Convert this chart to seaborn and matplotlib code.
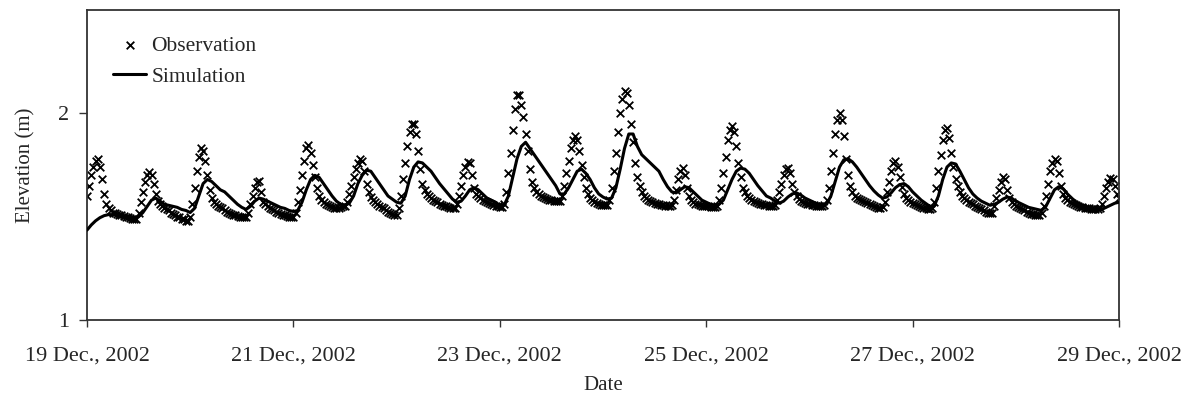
import matplotlib
matplotlib.use("Agg")
import matplotlib.pyplot as plt
import pandas as pd
import seaborn as sns

# Observed elevation (m), every 30 minutes from 19 Dec 2002 00:00
obs_elev = [
    1.60, 1.65, 1.70, 1.74, 1.77, 1.78, 1.74, 1.68, 1.61, 1.56, 1.54, 1.53, 1.52, 1.52, 1.515, 1.51, 1.51, 1.505, 1.50, 1.50, 1.495, 1.49, 1.49, 1.49,
    1.52, 1.57, 1.62, 1.67, 1.70, 1.715, 1.70, 1.66, 1.61, 1.575, 1.56, 1.55, 1.54, 1.535, 1.53, 1.52, 1.515, 1.51, 1.50, 1.50, 1.49, 1.49, 1.48, 1.48,
    1.50, 1.56, 1.64, 1.72, 1.79, 1.83, 1.82, 1.77, 1.70, 1.63, 1.59, 1.57, 1.56, 1.55, 1.545, 1.54, 1.53, 1.525, 1.52, 1.515, 1.51, 1.51, 1.505, 1.50,
    1.50, 1.50, 1.50, 1.52, 1.56, 1.60, 1.64, 1.67, 1.675, 1.62, 1.57, 1.56, 1.55, 1.54, 1.535, 1.53, 1.525, 1.52, 1.515, 1.51, 1.51, 1.505, 1.50, 1.50,
    1.50, 1.52, 1.57, 1.63, 1.70, 1.77, 1.83, 1.845, 1.81, 1.75, 1.69, 1.64, 1.60, 1.58, 1.57, 1.56, 1.555, 1.55, 1.545, 1.54, 1.54, 1.54, 1.545, 1.55,
    1.55, 1.57, 1.61, 1.65, 1.69, 1.73, 1.76, 1.78, 1.77, 1.72, 1.66, 1.62, 1.595, 1.58, 1.57, 1.56, 1.55, 1.545, 1.54, 1.53, 1.525, 1.52, 1.515, 1.51,
    1.51, 1.54, 1.60, 1.68, 1.76, 1.84, 1.91, 1.95, 1.95, 1.90, 1.82, 1.73, 1.66, 1.63, 1.61, 1.60, 1.59, 1.58, 1.575, 1.57, 1.56, 1.555, 1.55, 1.55,
    1.545, 1.54, 1.54, 1.54, 1.56, 1.60, 1.65, 1.70, 1.74, 1.765, 1.76, 1.70, 1.64, 1.61, 1.60, 1.59, 1.58, 1.575, 1.57, 1.565, 1.56, 1.555, 1.55, 1.55,
    1.545, 1.545, 1.56, 1.62, 1.71, 1.81, 1.92, 2.02, 2.09, 2.09, 2.04, 1.98, 1.90, 1.82, 1.73, 1.67, 1.64, 1.62, 1.61, 1.60, 1.595, 1.59, 1.585, 1.58,
    1.58, 1.575, 1.575, 1.575, 1.575, 1.60, 1.65, 1.71, 1.77, 1.83, 1.87, 1.89, 1.87, 1.82, 1.75, 1.69, 1.64, 1.61, 1.59, 1.58, 1.57, 1.565, 1.56, 1.555,
    1.555, 1.555, 1.555, 1.58, 1.64, 1.72, 1.81, 1.91, 2.00, 2.07, 2.11, 2.10, 2.04, 1.95, 1.86, 1.76, 1.69, 1.65, 1.62, 1.60, 1.59, 1.58, 1.575, 1.57,
    1.565, 1.56, 1.56, 1.555, 1.555, 1.55, 1.55, 1.55, 1.555, 1.58, 1.63, 1.68, 1.72, 1.735, 1.70, 1.64, 1.60, 1.58, 1.57, 1.56, 1.56, 1.555, 1.55, 1.55,
    1.55, 1.55, 1.545, 1.545, 1.545, 1.55, 1.58, 1.64, 1.71, 1.79, 1.87, 1.92, 1.94, 1.91, 1.84, 1.76, 1.69, 1.64, 1.62, 1.60, 1.59, 1.58, 1.575, 1.57,
    1.565, 1.56, 1.56, 1.555, 1.555, 1.55, 1.55, 1.55, 1.555, 1.58, 1.62, 1.66, 1.70, 1.73, 1.735, 1.71, 1.66, 1.62, 1.60, 1.585, 1.575, 1.57, 1.565, 1.56,
    1.56, 1.555, 1.555, 1.55, 1.55, 1.55, 1.55, 1.555, 1.58, 1.64, 1.72, 1.81, 1.90, 1.97, 2.00, 1.97, 1.89, 1.78, 1.70, 1.65, 1.62, 1.60, 1.59, 1.585,
    1.58, 1.575, 1.57, 1.565, 1.56, 1.555, 1.55, 1.545, 1.54, 1.54, 1.545, 1.57, 1.62, 1.67, 1.72, 1.76, 1.77, 1.74, 1.69, 1.645, 1.61, 1.59, 1.58, 1.57,
    1.565, 1.56, 1.555, 1.55, 1.545, 1.54, 1.54, 1.535, 1.535, 1.54, 1.57, 1.64, 1.72, 1.80, 1.87, 1.92, 1.93, 1.88, 1.81, 1.74, 1.68, 1.65, 1.62, 1.60,
    1.59, 1.58, 1.57, 1.565, 1.56, 1.55, 1.545, 1.54, 1.535, 1.53, 1.525, 1.52, 1.52, 1.52, 1.55, 1.59, 1.63, 1.67, 1.69, 1.68, 1.63, 1.59, 1.57, 1.56,
    1.55, 1.545, 1.54, 1.535, 1.53, 1.525, 1.52, 1.515, 1.515, 1.51, 1.51, 1.51, 1.52, 1.55, 1.60, 1.66, 1.72, 1.76, 1.78, 1.77, 1.71, 1.65, 1.61, 1.59,
    1.58, 1.57, 1.565, 1.56, 1.555, 1.55, 1.545, 1.545, 1.54, 1.54, 1.54, 1.535, 1.535, 1.535, 1.535, 1.54, 1.56, 1.60, 1.64, 1.67, 1.685, 1.68, 1.65, 1.61,
    1.59,
]

# Simulated elevation (m), hourly from 19 Dec 2002 00:00
sim_elev = [
    1.435, 1.46, 1.48, 1.495, 1.505, 1.51, 1.51, 1.51, 1.505, 1.50, 1.50, 1.495,
    1.50, 1.52, 1.55, 1.58, 1.59, 1.575, 1.56, 1.555, 1.55, 1.545, 1.535, 1.53,
    1.52, 1.54, 1.60, 1.66, 1.68, 1.67, 1.65, 1.63, 1.62, 1.60, 1.58, 1.56,
    1.545, 1.535, 1.55, 1.575, 1.59, 1.585, 1.575, 1.565, 1.555, 1.545, 1.54, 1.53,
    1.525, 1.53, 1.57, 1.63, 1.68, 1.70, 1.69, 1.66, 1.63, 1.60, 1.575, 1.56,
    1.555, 1.565, 1.60, 1.66, 1.70, 1.725, 1.72, 1.69, 1.66, 1.63, 1.60, 1.585,
    1.57, 1.565, 1.60, 1.68, 1.74, 1.765, 1.76, 1.74, 1.72, 1.69, 1.66, 1.635,
    1.61, 1.585, 1.57, 1.575, 1.60, 1.63, 1.64, 1.63, 1.61, 1.59, 1.58, 1.57,
    1.555, 1.555, 1.60, 1.69, 1.78, 1.84, 1.86, 1.83, 1.80, 1.77, 1.74, 1.71,
    1.68, 1.65, 1.61, 1.61, 1.64, 1.68, 1.72, 1.73, 1.71, 1.68, 1.64, 1.61,
    1.595, 1.585, 1.59, 1.64, 1.73, 1.83, 1.90, 1.90, 1.84, 1.80, 1.78, 1.76,
    1.74, 1.72, 1.68, 1.645, 1.62, 1.615, 1.63, 1.645, 1.64, 1.62, 1.60, 1.58,
    1.57, 1.56, 1.555, 1.56, 1.58, 1.63, 1.68, 1.72, 1.735, 1.73, 1.71, 1.68,
    1.65, 1.625, 1.60, 1.59, 1.575, 1.565, 1.575, 1.595, 1.61, 1.615, 1.605, 1.59,
    1.58, 1.57, 1.56, 1.555, 1.56, 1.60, 1.67, 1.74, 1.775, 1.78, 1.765, 1.74,
    1.71, 1.68, 1.65, 1.625, 1.605, 1.59, 1.595, 1.615, 1.64, 1.655, 1.66, 1.645,
    1.62, 1.60, 1.58, 1.565, 1.55, 1.55, 1.60, 1.68, 1.74, 1.76, 1.755, 1.72,
    1.68, 1.64, 1.61, 1.59, 1.575, 1.565, 1.555, 1.56, 1.57, 1.585, 1.595, 1.59,
    1.575, 1.565, 1.555, 1.545, 1.54, 1.535, 1.53, 1.55, 1.59, 1.63, 1.645, 1.635,
    1.61, 1.59, 1.57, 1.56, 1.55, 1.54, 1.535, 1.53, 1.535, 1.545, 1.555, 1.565,
    1.57,
]

start_time = "2002-12-19 00:00"
obs_freq = "30min"
sim_freq = "60min"
tick_dates = ["2002-12-19", "2002-12-21", "2002-12-23", "2002-12-25", "2002-12-27", "2002-12-29"]
tick_labels = ["19 Dec., 2002", "21 Dec., 2002", "23 Dec., 2002",
               "25 Dec., 2002", "27 Dec., 2002", "29 Dec., 2002"]
y_ticks = [1, 2]

assert len(obs_elev) == 481, len(obs_elev)
assert len(sim_elev) == 241, len(sim_elev)

sns.set_theme(style="ticks")
plt.rcParams["font.family"] = ["Liberation Serif", "DejaVu Serif"]
plt.rcParams["xtick.direction"] = "out"
plt.rcParams["ytick.direction"] = "out"

obs_df = pd.DataFrame({
    "Date": pd.date_range(start_time, periods=len(obs_elev), freq=obs_freq),
    "Elevation": obs_elev,
})
sim_df = pd.DataFrame({
    "Date": pd.date_range(start_time, periods=len(sim_elev), freq=sim_freq),
    "Elevation": sim_elev,
})

fig = plt.figure(figsize=(11.92, 4.03), dpi=100)
ax = fig.add_axes([87 / 1192, 1 - 320 / 403, (1119 - 87) / 1192, (320 - 10) / 403])

sns.scatterplot(data=obs_df, x="Date", y="Elevation", marker="x", color="black",
                s=30, linewidth=1.3, ax=ax, label="Observation", zorder=2)
sns.lineplot(data=sim_df, x="Date", y="Elevation", color="black", linewidth=2.2,
             ax=ax, label="Simulation", zorder=3)

ax.set_xlim(pd.Timestamp(tick_dates[0]), pd.Timestamp(tick_dates[-1]))
ax.set_ylim(1, 2.5)
ax.set_xticks([pd.Timestamp(d) for d in tick_dates])
ax.set_xticklabels(tick_labels, fontsize=16)
ax.set_yticks(y_ticks)
ax.set_yticklabels([str(v) for v in y_ticks], fontsize=16)
ax.tick_params(axis="x", length=5, width=1, color="#333333", pad=14)
ax.tick_params(axis="y", length=6, width=1, color="#333333", pad=7)

ax.set_xlabel("Date", fontsize=15, labelpad=8)
ax.set_ylabel("Elevation (m)", fontsize=15, labelpad=16)

for sp in ax.spines.values():
    sp.set_visible(True)
    sp.set_color("#333333")
    sp.set_linewidth(1.3)

leg = ax.legend(loc="upper left", frameon=False, fontsize=15.5,
                handlelength=1.55, handletextpad=0.25, labelspacing=0.5,
                borderaxespad=0.75, borderpad=0.45)

fig.savefig("out.png", dpi=100)
